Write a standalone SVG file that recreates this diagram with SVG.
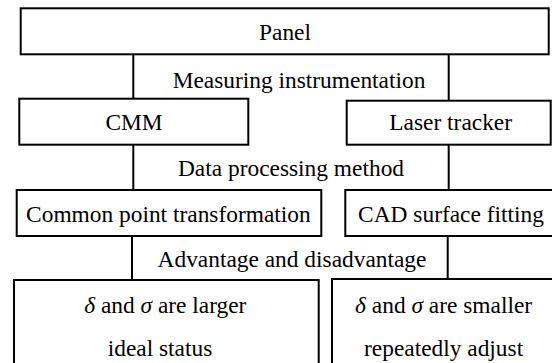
<svg xmlns="http://www.w3.org/2000/svg" width="552" height="363" viewBox="0 0 552 363">
<style>
.box{fill:#fff;stroke:#000;stroke-width:2}
.t{font-family:"Liberation Serif","Times New Roman",serif;font-size:23.4px;fill:#000;text-anchor:middle}
.c{stroke:#000;stroke-width:2;fill:none}
.i{font-style:italic}
</style>
<rect width="552" height="363" fill="#fff"/>
<g id="connectors">
<line class="c" x1="133.3" y1="54" x2="133.3" y2="99"/>
<line class="c" x1="448.7" y1="54" x2="448.7" y2="101"/>
<line class="c" x1="133.3" y1="145" x2="133.3" y2="190"/>
<line class="c" x1="448.7" y1="145" x2="448.7" y2="190"/>
<line class="c" x1="132" y1="236" x2="132" y2="280"/>
<line class="c" x1="447.7" y1="236" x2="447.7" y2="279"/>
<text class="t" x="299" y="88">Measuring instrumentation</text>
<text class="t" x="291" y="176">Data processing method</text>
<text class="t" x="292" y="266.5">Advantage and disadvantage</text>
</g>
<g id="panel">
<rect class="box" x="20.7" y="8.3" width="528" height="46"/>
<text class="t" x="285" y="39.5">Panel</text>
</g>
<g id="cmm">
<rect class="box" x="19.3" y="98.7" width="229" height="46"/>
<text class="t" x="134" y="130">CMM</text>
</g>
<g id="laser">
<rect class="box" x="346.7" y="100.7" width="204" height="44"/>
<text class="t" x="450.7" y="130">Laser tracker</text>
</g>
<g id="common">
<rect class="box" x="16.7" y="190" width="304.6" height="46"/>
<text class="t" x="168.4" y="221.7">Common point transformation</text>
</g>
<g id="cad">
<rect class="box" x="345.3" y="190" width="220" height="46"/>
<text class="t" x="451" y="221.7">CAD surface fitting</text>
</g>
<g id="left-result">
<rect class="box" x="14" y="280" width="304.7" height="100"/>
<text class="t" x="165.3" y="313.3"><tspan class="i">δ</tspan> and <tspan class="i">σ</tspan> are larger</text>
<text class="t" x="160" y="356">ideal status</text>
</g>
<g id="right-result">
<rect class="box" x="332" y="279" width="240" height="100"/>
<text class="t" x="443.6" y="313.3"><tspan class="i">δ</tspan> and <tspan class="i">σ</tspan> are smaller</text>
<text class="t" x="443.6" y="356">repeatedly adjust</text>
</g>
</svg>
